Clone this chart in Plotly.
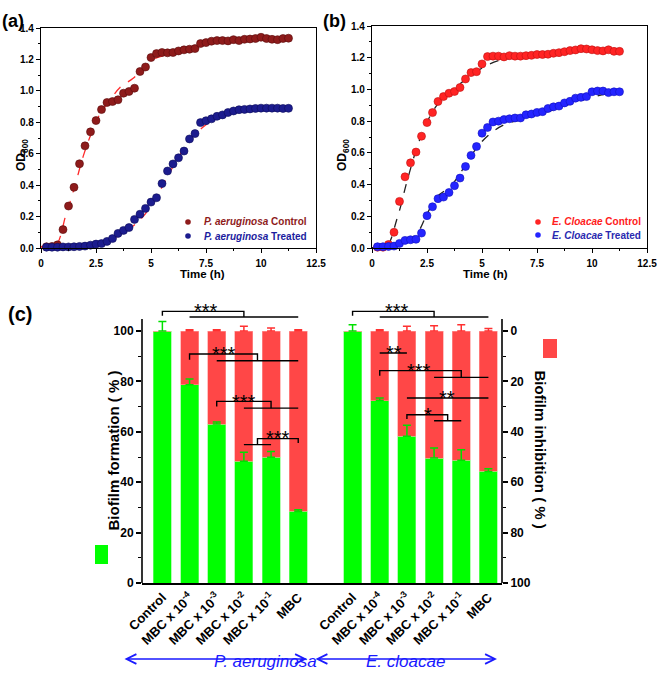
import plotly.graph_objects as go

W, H = 662, 683
def px(x): return x / W
def py(y): return 1 - y / H

# ---------------- growth curves ----------------
time_h = [0.25, 0.5, 0.75, 1.0, 1.25, 1.5, 1.75, 2.0, 2.25, 2.5, 2.75, 3.0, 3.25, 3.5, 3.75,
          4.0, 4.25, 4.5, 4.75, 5.0, 5.25, 5.5, 5.75, 6.0, 6.25, 6.5, 6.75, 7.0, 7.25, 7.5,
          7.75, 8.0, 8.25, 8.5, 8.75, 9.0, 9.25, 9.5, 9.75, 10.0, 10.25, 10.5, 10.75, 11.0, 11.25]

pa_control = [0.008, 0.01, 0.02, 0.117, 0.267, 0.386, 0.536, 0.65, 0.739, 0.811, 0.881, 0.926, 0.932,
              0.943, 0.985, 0.996, 1.017, 1.123, 1.152, 1.212, 1.237, 1.244, 1.242, 1.244, 1.254, 1.261,
              1.265, 1.269, 1.301, 1.307, 1.316, 1.320, 1.320, 1.318, 1.326, 1.320, 1.328, 1.330, 1.333,
              1.341, 1.333, 1.328, 1.326, 1.333, 1.335]
pa_treated = [0.005, 0.005, 0.005, 0.007, 0.007, 0.008, 0.01, 0.012, 0.018, 0.025, 0.028, 0.042, 0.06,
              0.093, 0.112, 0.13, 0.182, 0.215, 0.252, 0.292, 0.32, 0.41, 0.49, 0.535, 0.574, 0.617,
              0.694, 0.728, 0.798, 0.81, 0.822, 0.838, 0.847, 0.862, 0.872, 0.88, 0.882, 0.885, 0.888,
              0.89, 0.89, 0.89, 0.89, 0.888, 0.889]
ec_control = [0.005, 0.005, 0.022, 0.099, 0.294, 0.449, 0.537, 0.605, 0.705, 0.791, 0.854, 0.924, 0.955,
              0.976, 0.987, 1.012, 1.066, 1.106, 1.112, 1.161, 1.207, 1.21, 1.21, 1.205, 1.213, 1.21,
              1.21, 1.213, 1.215, 1.22, 1.22, 1.222, 1.228, 1.232, 1.238, 1.245, 1.249, 1.257, 1.255,
              1.25, 1.245, 1.243, 1.25, 1.24, 1.24]
ec_treated = [0.008, 0.008, 0.01, 0.012, 0.029, 0.048, 0.052, 0.055, 0.094, 0.204, 0.26, 0.311, 0.321,
              0.35, 0.393, 0.441, 0.514, 0.584, 0.64, 0.724, 0.76, 0.795, 0.80, 0.81, 0.815, 0.82,
              0.82, 0.84, 0.845, 0.855, 0.86, 0.88, 0.89, 0.895, 0.915, 0.925, 0.945, 0.95, 0.955,
              0.985, 0.99, 0.99, 0.98, 0.985, 0.985]

# fitted curves
pa_fit_ctrl_t = [0, 0.62, 1.15, 1.53, 1.91, 2.29, 2.67, 3.13, 3.58, 4.19, 4.64, 5.10, 5.71, 6.46, 7.22, 7.98, 8.74, 10.26, 11.32]
pa_fit_ctrl_y = [0.01, 0.006, 0.22, 0.39, 0.58, 0.73, 0.85, 0.94, 1.02, 1.08, 1.14, 1.20, 1.23, 1.25, 1.28, 1.31, 1.32, 1.33, 1.335]
pa_fit_trt_t = [0, 1.91, 2.67, 3.43, 4.19, 4.64, 5.10, 5.55, 6.01, 6.46, 6.92, 7.37, 7.98, 8.74, 9.5, 10.26, 11.32]
pa_fit_trt_y = [0.006, 0.015, 0.03, 0.07, 0.14, 0.20, 0.29, 0.40, 0.52, 0.625, 0.71, 0.77, 0.83, 0.87, 0.89, 0.896, 0.905]
ec_fit_ctrl_t = [0, 0.62, 1.15, 1.61, 2.06, 2.52, 3.13, 3.73, 4.34, 4.95, 5.71, 6.62, 7.98, 9.5, 11.32]
ec_fit_ctrl_y = [0.002, 0.002, 0.19, 0.43, 0.64, 0.80, 0.934, 1.008, 1.07, 1.13, 1.18, 1.20, 1.22, 1.24, 1.25]
ec_fit_trt_t = [0, 0.7, 1.61, 2.06, 2.52, 2.97, 3.58, 4.19, 4.8, 5.4, 6.0, 6.62, 7.53, 8.44, 9.35, 10.26, 11.32]
ec_fit_trt_y = [0.002, 0.01, 0.05, 0.094, 0.22, 0.325, 0.39, 0.51, 0.64, 0.724, 0.777, 0.804, 0.84, 0.88, 0.924, 0.96, 0.987]

time_ticks = [0, 2.5, 5, 7.5, 10, 12.5]
time_ticktext = ["0", "2.5", "5", "7.5", "10", "12.5"]
od_ticks = [0.0, 0.2, 0.4, 0.6, 0.8, 1.0, 1.2, 1.4]

# ---------------- biofilm bars ----------------
categories = ["Control", "MBC x 10<sup>-4</sup>", "MBC x 10<sup>-3</sup>",
              "MBC x 10<sup>-2</sup>", "MBC x 10<sup>-1</sup>", "MBC"]
pa_pos = [0, 1, 2, 3, 4, 5]
ec_pos = [7, 8, 9, 10, 11, 12]
pa_formation = [100, 78.7, 63.1, 48.3, 49.9, 28.4]
pa_formation_err = [3.8, 2.3, 0.8, 3.6, 2.3, 0.7]
pa_inhibition_err = [0, 0.5, 0.5, 1.9, 1.2, 0.5]
ec_formation = [100, 72.4, 58.2, 49.6, 48.7, 44.3]
ec_formation_err = [2.5, 1.0, 4.4, 4.0, 4.2, 1.0]
ec_inhibition_err = [0, 0.5, 1.9, 2.1, 2.5, 1.0]
pct_ticks = [0, 20, 40, 60, 80, 100]
pct_minor = [10, 30, 50, 70, 90]

# significance brackets: (bracket path points, flat line points, label, label position)
brackets = [
    ([(0, 106.1), (0, 107.8), (3, 107.8), (3, 105.6)], [(1, 105.6), (5, 105.6)], "***", (1.6, 110.5)),
    ([(1, 88.6), (1, 90.9), (3.5, 90.9), (3.5, 88.2)], [(2, 88.2), (5, 88.2)], "***", (2.28, 93.3)),
    ([(2, 70.0), (2, 72.1), (4, 72.1), (4, 69.4)], [(3, 69.4), (5, 69.4)], "***", (3.0, 74.3)),
    ([(3.5, 54.9), (3.5, 57.3), (5, 57.3), (5, 55.6)], [(3, 54.9), (4, 54.9)], "***", (4.27, 59.8)),
    ([(7, 106.1), (7, 107.8), (10, 107.8), (10, 105.6)], [(8, 105.6), (12, 105.6)], "***", (8.65, 110.5)),
    ([], [(8, 91.3), (9, 91.3)], "**", (8.53, 93.5)),
    ([(8, 82.3), (8, 84.3), (11, 84.3), (11, 81.6)], [(10, 81.6), (12, 81.6)], "***", (9.45, 86.6)),
    ([], [(9, 73.4), (12, 73.4)], "**", (10.47, 75.8)),
    ([(9, 65.1), (9, 66.8), (10.5, 66.8), (10.5, 64.4)], [(10, 64.4), (11, 64.4)], "*", (9.78, 69.2)),
]

# legend entries: (label html, text colour)
legend_a = [('<i>P. aeruginosa</i> Control', "#8e1b1b"), ('<i>P. aeruginosa</i> Treated', "#1c1c9e")]
legend_b = [('<i>E. Cloacae</i> Control', "#ff2020"), ('<i>E. Cloacae</i> Treated', "#2a2ab0")]

FONT = "Arial, Liberation Sans, sans-serif"
fig = go.Figure()

# ---- panel (a)
fig.add_trace(go.Scatter(x=pa_fit_ctrl_t, y=pa_fit_ctrl_y, mode="lines", xaxis="x", yaxis="y",
                         line=dict(color="#ff2a2a", dash="dash", width=1.3, shape="spline"), showlegend=False))
fig.add_trace(go.Scatter(x=pa_fit_trt_t, y=pa_fit_trt_y, mode="lines", xaxis="x", yaxis="y",
                         line=dict(color="#ff2a2a", dash="dash", width=1.3, shape="spline"), showlegend=False))
fig.add_trace(go.Scatter(x=time_h, y=pa_control, mode="markers", xaxis="x", yaxis="y", cliponaxis=False,
                         marker=dict(size=8, color="#8e1b1b", line=dict(color="#5a0c0c", width=0.6)),
                         name="P. aeruginosa Control", showlegend=False))
fig.add_trace(go.Scatter(x=time_h, y=pa_treated, mode="markers", xaxis="x", yaxis="y", cliponaxis=False,
                         marker=dict(size=8, color="#1c1c8e", line=dict(color="#0c0c5a", width=0.6)),
                         name="P. aeruginosa Treated", showlegend=False))

# ---- panel (b)
fig.add_trace(go.Scatter(x=ec_fit_ctrl_t, y=ec_fit_ctrl_y, mode="lines", xaxis="x2", yaxis="y2",
                         line=dict(color="#222222", dash="dash", width=1.3, shape="spline"), showlegend=False))
fig.add_trace(go.Scatter(x=ec_fit_trt_t, y=ec_fit_trt_y, mode="lines", xaxis="x2", yaxis="y2",
                         line=dict(color="#222222", dash="dash", width=1.3, shape="spline"), showlegend=False))
fig.add_trace(go.Scatter(x=time_h, y=ec_control, mode="markers", xaxis="x2", yaxis="y2", cliponaxis=False,
                         marker=dict(size=8, color="#ff2424", line=dict(color="#c01010", width=0.6)),
                         name="E. Cloacae Control", showlegend=False))
fig.add_trace(go.Scatter(x=time_h, y=ec_treated, mode="markers", xaxis="x2", yaxis="y2", cliponaxis=False,
                         marker=dict(size=8, color="#2424ff", line=dict(color="#1010c0", width=0.6)),
                         name="E. Cloacae Treated", showlegend=False))

# ---- panel (c)
bar_pos = pa_pos + ec_pos
formation = pa_formation + ec_formation
inhibition_part = [100 - f for f in formation]
fig.add_trace(go.Bar(x=bar_pos, y=formation, width=0.66, xaxis="x3", yaxis="y3", showlegend=False,
                     name="Biofilm formation",
                     marker=dict(color="#00ff00", line=dict(color="#80ff80", width=0.6))))
fig.add_trace(go.Bar(x=bar_pos, y=inhibition_part, width=0.66, xaxis="x3", yaxis="y3", showlegend=False,
                     name="Biofilm inhibition",
                     marker=dict(color="#ff4747", line=dict(color="#ff9a9a", width=0.6))))

red_x = pa_pos[1:] + ec_pos[1:]
red_err = pa_inhibition_err[1:] + ec_inhibition_err[1:]
fig.add_trace(go.Scatter(x=red_x, y=[100] * len(red_x), mode="markers", xaxis="x3", yaxis="y3",
                         marker=dict(size=1, opacity=0), showlegend=False,
                         error_y=dict(type="data", array=red_err, arrayminus=[0] * len(red_x), symmetric=False,
                                      color="#ff3030", thickness=1.5, width=4)))
fig.add_trace(go.Scatter(x=bar_pos, y=formation, mode="markers", xaxis="x3", yaxis="y3",
                         marker=dict(size=1, opacity=0), showlegend=False,
                         error_y=dict(type="data", array=pa_formation_err + ec_formation_err,
                                      arrayminus=[0] * len(bar_pos), symmetric=False,
                                      color="#00e000", thickness=1.5, width=4)))

annotations = []
for path, flat, label, (lx, ly) in brackets:
    xs, ys = [], []
    for seg in (path, flat):
        if seg:
            xs += [p[0] for p in seg] + [None]
            ys += [p[1] for p in seg] + [None]
    fig.add_trace(go.Scatter(x=xs, y=ys, mode="lines", xaxis="x3", yaxis="y3", showlegend=False,
                             line=dict(color="black", width=1.4)))
    annotations.append(dict(x=lx, y=ly - 2.4, xref="x3", yref="y3", text=label, showarrow=False,
                            font=dict(size=20, color="black", family=FONT)))

fig.add_trace(go.Scatter(x=[None], y=[None], xaxis="x3", yaxis="y4", showlegend=False))

axis_common = dict(showline=True, linecolor="black", linewidth=1.2, mirror=True, ticks="outside",
                   ticklen=4, tickwidth=1.1, tickcolor="black", showgrid=False, zeroline=False,
                   automargin=False,
                   tickfont=dict(size=10, family=FONT, color="black", weight="bold"))

layout = dict(
    template="none",
    width=W, height=H, margin=dict(l=0, r=0, t=0, b=0, autoexpand=False),
    paper_bgcolor="white", plot_bgcolor="white", barmode="stack", showlegend=False,
    font=dict(family=FONT, color="black"),
    xaxis=dict(domain=[px(41), px(316)], anchor="y", range=[0, 12.5], tickvals=time_ticks,
               ticktext=time_ticktext, ticklabelstandoff=2,
               minor=dict(dtick=1.25, ticklen=2, ticks="outside", tickcolor="black"), **axis_common),
    yaxis=dict(domain=[py(248), py(28)], anchor="x", range=[0, 1.4], tickvals=od_ticks, tickformat=".1f",
               minor=dict(dtick=0.1, ticklen=2, ticks="outside", tickcolor="black"), **axis_common),
    xaxis2=dict(domain=[px(372), px(647)], anchor="y2", range=[0, 12.5], tickvals=time_ticks,
                ticktext=time_ticktext, ticklabelstandoff=2,
                minor=dict(dtick=1.25, ticklen=2, ticks="outside", tickcolor="black"), **axis_common),
    yaxis2=dict(domain=[py(248), py(26)], anchor="x2", range=[0, 1.4], tickvals=od_ticks, tickformat=".1f",
                minor=dict(dtick=0.1, ticklen=2, ticks="outside", tickcolor="black"), **axis_common),
    xaxis3=dict(domain=[px(142), px(502)], anchor="y3", range=[-0.75, 12.5], tickvals=bar_pos,
                ticktext=categories + categories, tickangle=-45, ticks="", showline=True, linecolor="black",
                linewidth=1.6, showgrid=False, zeroline=False, automargin=False,
                tickfont=dict(size=13, family=FONT, color="black", weight="bold")),
    yaxis3=dict(domain=[py(583), py(300.8)], anchor="x3", range=[0, 112], tickvals=pct_ticks,
                showline=False, ticks="outside", ticklen=5, tickwidth=1.5, tickcolor="black",
                minor=dict(tickvals=pct_minor, ticks="outside", ticklen=3, tickwidth=1.2, tickcolor="black"),
                showgrid=False, zeroline=False, automargin=False,
                tickfont=dict(size=12, family=FONT, color="black", weight="bold")),
    yaxis4=dict(domain=[py(583), py(300.8)], anchor="x3", overlaying="y3", side="right", range=[100, -12],
                tickvals=pct_ticks, showline=False, ticks="outside", ticklen=5, tickwidth=1.5, tickcolor="black",
                minor=dict(tickvals=pct_minor, ticks="outside", ticklen=3, tickwidth=1.2, tickcolor="black"),
                showgrid=False, zeroline=False, automargin=False,
                tickfont=dict(size=12, family=FONT, color="black", weight="bold")),
)
fig.update_layout(**layout)

shapes = [
    dict(type="line", xref="x3 domain", yref="y3", x0=0, x1=0, y0=0, y1=104.8, line=dict(color="black", width=1.6)),
    dict(type="line", xref="x3 domain", yref="y3", x0=1, x1=1, y0=0, y1=104.8, line=dict(color="black", width=1.6)),
    dict(type="rect", xref="paper", yref="paper", x0=px(95), x1=px(108), y0=py(564), y1=py(545),
         fillcolor="#00ff00", line=dict(width=0)),
    dict(type="rect", xref="paper", yref="paper", x0=px(543), x1=px(557), y0=py(358), y1=py(339),
         fillcolor="#ff4747", line=dict(width=0)),
]

bold = dict(family=FONT, color="black", weight="bold")

# manual legends for (a) and (b)
def add_legend(entries, marker_colors, mx, tx, ys):
    for (label, tcol), mcol, yy in zip(entries, marker_colors, ys):
        shapes.append(dict(type="circle", xref="paper", yref="paper", x0=px(mx - 2.8), x1=px(mx + 2.8),
                           y0=py(yy + 2.8), y1=py(yy - 2.8), fillcolor=mcol, line=dict(width=0)))
        annotations.append(dict(x=px(tx), y=py(yy), xref="paper", yref="paper", xanchor="left",
                                yanchor="middle", text=label, showarrow=False,
                                font=dict(size=10, family=FONT, color=tcol, weight="bold")))

add_legend(legend_a, ["#8e1b1b", "#1c1c8e"], 188, 202, [222, 236])
add_legend(legend_b, ["#ff2424", "#2424ff"], 538, 550, [222, 235])

annotations += [
    dict(x=px(0), y=py(9), xref="paper", yref="paper", xanchor="left", text="(a)", showarrow=False,
         font=dict(size=18, **bold)),
    dict(x=px(321), y=py(9), xref="paper", yref="paper", xanchor="left", text="(b)", showarrow=False,
         font=dict(size=18, **bold)),
    dict(x=px(6), y=py(314), xref="paper", yref="paper", xanchor="left", text="(c)", showarrow=False,
         font=dict(size=20, **bold)),
    dict(x=px(178), y=py(274), xref="paper", yref="paper", text="Time (h)", showarrow=False,
         font=dict(size=11.5, **bold)),
    dict(x=px(510), y=py(274), xref="paper", yref="paper", text="Time (h)", showarrow=False,
         font=dict(size=11.5, **bold)),
    dict(x=px(12), y=py(137), xref="paper", yref="paper", text="OD<sub>600</sub>", textangle=-90,
         showarrow=False, font=dict(size=12, **bold)),
    dict(x=px(343), y=py(137), xref="paper", yref="paper", text="OD<sub>600</sub>", textangle=-90,
         showarrow=False, font=dict(size=12, **bold)),
    dict(x=px(102), y=py(451), xref="paper", yref="paper", text="Biofilm formation ( % )", textangle=-90,
         showarrow=False, font=dict(size=15, **bold)),
    dict(x=px(551), y=py(449), xref="paper", yref="paper", text="Biofilm inhibition ( % )", textangle=90,
         showarrow=False, font=dict(size=15, **bold)),
    # species arrows
    dict(x=px(307), y=py(659), xref="paper", yref="paper", ax=-184, ay=0, axref="pixel", ayref="pixel",
         text="", showarrow=True, arrowside="end+start", arrowhead=5, startarrowhead=5, arrowsize=1.2,
         startarrowsize=1.2, arrowwidth=1.6, arrowcolor="#1a1aff"),
    dict(x=px(497), y=py(659), xref="paper", yref="paper", ax=-183, ay=0, axref="pixel", ayref="pixel",
         text="", showarrow=True, arrowside="end+start", arrowhead=5, startarrowhead=5, arrowsize=1.2,
         startarrowsize=1.2, arrowwidth=1.6, arrowcolor="#1a1aff"),
    dict(x=px(212), y=py(673), xref="paper", yref="paper", text="<i>P. aeruginosa</i>", showarrow=False,
         font=dict(size=17, family=FONT, color="#1a1aff")),
    dict(x=px(405), y=py(673), xref="paper", yref="paper", text="<i>E. cloacae</i>", showarrow=False,
         font=dict(size=17, family=FONT, color="#1a1aff")),
]
fig.update_layout(shapes=shapes, annotations=annotations)
fig.write_html("out.html", config={"displayModeBar": False},
               post_script="document.body.style.margin='0';document.body.style.overflow='hidden';")
